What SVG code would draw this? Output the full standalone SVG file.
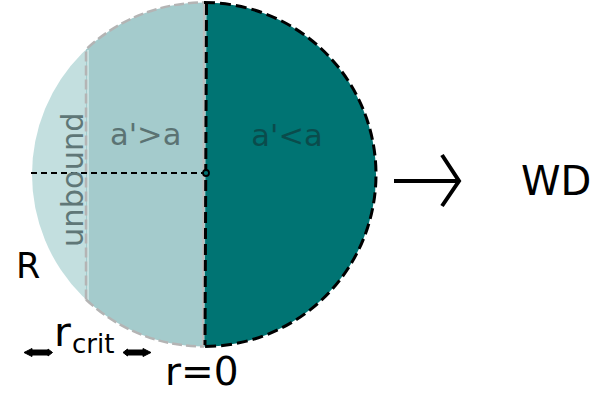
<svg xmlns="http://www.w3.org/2000/svg" width="611" height="394" viewBox="0 0 611 394">
<style>
text{font-family:"DejaVu Sans","Liberation Sans",sans-serif}
.blk{fill:none;stroke:#000;stroke-width:3;stroke-dasharray:11 5}
.gry{fill:none;stroke:#b4b4b4;stroke-width:2.5;stroke-dasharray:10 4}
.dbl{fill:#000;stroke:#000;stroke-width:1;stroke-linejoin:round}
</style>
<defs>
<clipPath id="cc"><circle cx="204" cy="174.5" r="172"/></clipPath>
</defs>
<g id="sphere">
<g clip-path="url(#cc)">
<rect x="30" y="0" width="57" height="350" fill="#c3dfdf"/>
<rect x="86" y="0" width="120" height="350" fill="#a4cbcc"/>
<polygon points="206.5,0 380,0 380,350 204.5,350" fill="#007473"/>
</g>
<line x1="88" y1="50" x2="88" y2="300" stroke="#d6e8e8" stroke-width="1.5"/>
<path class="gry" d="M86,299.5 L86,49.5 A172,172 0 0 1 204,2.5"/>
<path class="gry" d="M86,299.5 A172,172 0 0 0 204,346.5"/>
<line x1="204" y1="3" x2="203" y2="346" stroke="#bdbdbd" stroke-width="2"/>
<path class="blk" d="M204,2.5 A172,172 0 0 1 204,346.5"/>
<line class="blk" x1="206.5" y1="4" x2="205" y2="345"/>
</g>
<g id="connectors">
<line x1="31" y1="173" x2="203" y2="173" stroke="#000" stroke-width="2" stroke-dasharray="6 4"/>
<circle cx="206" cy="173" r="3" fill="#007473" stroke="#000" stroke-width="1.8"/>
<path d="M394,181 H458 M442,155 L459,181 L442,206" fill="none" stroke="#000" stroke-width="4"/>
<path class="dbl" d="M24,352.5 L32,348.5 L32,350 L48,350 L48,349 L52.5,352.5 L48,356 L48,355 L32,355 L32,356.5 Z"/>
<path class="dbl" d="M123,352.5 L127.5,349 L127.5,350 L143,350 L143,348.5 L151,352.5 L143,356.5 L143,355 L127.5,355 L127.5,356 Z"/>
</g>
<g id="labels">
<text transform="translate(82.5,247) rotate(-90)" font-size="30.5" fill="#5f7777">unbound</text>
<text x="110" y="145" font-size="30.5" fill="#5b7373">a'&gt;a</text>
<text x="287" y="146" font-size="30.5" fill="#0a4c4c" text-anchor="middle">a'&lt;a</text>
<text x="16" y="278" font-size="35" fill="#000">R</text>
<text x="54" y="346" font-size="41" fill="#000">r</text>
<text x="72" y="353" font-size="26" fill="#000">crit</text>
<text x="165" y="385" font-size="39" fill="#000">r=0</text>
<text x="521" y="195" font-size="40" fill="#000">WD</text>
</g>
</svg>
